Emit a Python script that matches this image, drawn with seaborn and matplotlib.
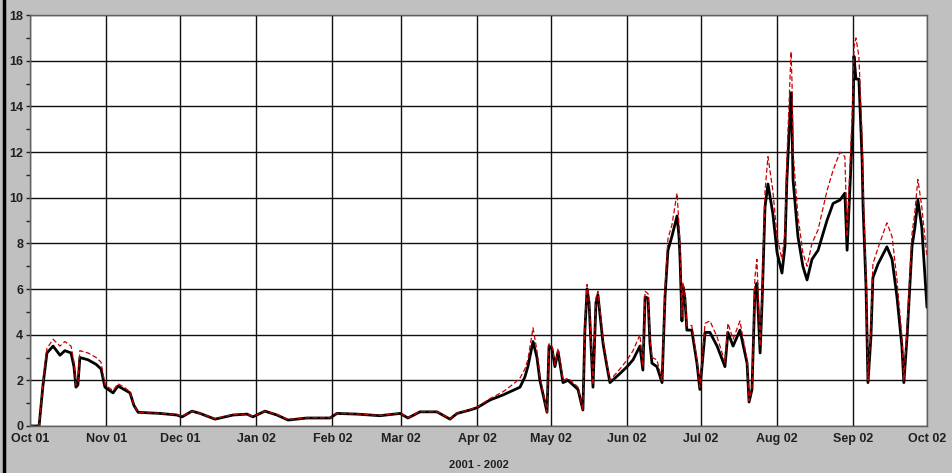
import numpy as np
import pandas as pd
import seaborn as sns
import matplotlib.pyplot as plt
import matplotlib.dates as mdates
from matplotlib.ticker import MultipleLocator
from matplotlib.lines import Line2D

# dias desde 2001-10-01 y valores
days = [0, 3.7, 5.3, 6.9, 9.4, 12.2, 14.2, 16.7, 17.9, 18.7, 19.5, 20.3, 23.6, 26.9, 28.9,
        30.5, 33.8, 35.8, 38.3, 40.7, 42.3, 44.0, 52.9, 59.8, 61.9, 65.9, 69.2, 75.3, 82.6,
        88.3, 90.7, 95.6, 100.5, 105.0, 112.7, 122.1, 124.9, 133.1, 142.4, 150.6, 153.8,
        158.7, 165.6, 170.9, 173.8, 179.0, 181.9, 187.2, 192.5, 197.4, 199.4, 201.4, 202.6,
        204.7, 206.3, 207.5, 210.4, 211.2, 212.4, 213.6, 214.9, 216.9, 218.9, 221.0, 223.0,
        225.0, 225.8, 226.7, 227.5, 229.1, 230.3, 231.1, 233.2, 234.8, 236.0, 240.1, 243.0,
        245.4, 248.2, 249.4, 250.3, 251.5, 252.3, 253.1, 255.1, 257.2, 258.4, 259.6, 261.2,
        263.3, 264.1, 264.5, 265.3, 265.7, 266.5, 267.3, 269.3, 271.4, 272.6, 274.7, 276.7,
        279.6, 282.8, 284.0, 286.1, 288.9, 291.8, 292.6, 293.8, 295.0, 295.8, 297.1, 297.9,
        299.1, 300.3, 302.3, 304.0, 306.0, 307.2, 308.0, 309.7, 310.1, 310.5, 312.5, 314.5,
        316.2, 318.2, 320.7, 324.3, 326.8, 329.6, 331.6, 332.5, 333.3, 334.9, 335.3, 336.1,
        337.3, 338.6, 339.0, 340.2, 341.0, 342.2, 343.0, 345.1, 348.7, 350.8, 352.8, 354.8,
        355.6, 356.9, 358.9, 360.1, 361.3, 362.9, 365.0]

black_vals = [0, 0, 1.8, 3.2, 3.5, 3.1, 3.3, 3.2, 2.6, 1.7, 1.8, 3.0, 2.9, 2.7, 2.5,
              1.7, 1.45, 1.75, 1.6, 1.45, 0.9, 0.6, 0.55, 0.48, 0.4, 0.65, 0.55, 0.3, 0.48,
              0.52, 0.4, 0.65, 0.48, 0.26, 0.35, 0.35, 0.55, 0.52, 0.45, 0.55, 0.35,
              0.62, 0.62, 0.3, 0.55, 0.7, 0.8, 1.14, 1.36, 1.6, 1.7, 2.15, 2.6,
              3.7, 3.0, 2.0, 0.6, 3.5, 3.4, 2.6, 3.25, 1.9, 2.0, 1.8, 1.6,
              0.7, 4.2, 6.0, 5.4, 1.7, 5.4, 5.75, 3.6, 2.6, 1.9, 2.3, 2.6,
              2.9, 3.5, 2.45, 5.65, 5.6, 3.6, 2.75, 2.6, 1.9, 5.65, 7.7, 8.3,
              9.2, 8.3, 7.4, 4.6, 6.1, 5.6, 4.2, 4.2, 2.75, 1.6, 4.1, 4.1,
              3.5, 2.6, 4.1, 3.5, 4.2, 2.75, 1.05, 1.6, 5.95, 6.25, 3.2, 5.4,
              9.6, 10.6, 9.3, 7.6, 6.7, 7.85, 10.8, 14.6, 13.1, 10.8, 8.3, 7.0,
              6.4, 7.3, 7.7, 9.0, 9.75, 9.9, 10.2, 7.7, 9.6, 13.4, 16.2, 15.2,
              15.2, 11.7, 9.6, 6.1, 1.9, 3.9, 6.5, 7.1, 7.85, 7.3, 5.65, 3.5,
              1.9, 3.9, 7.85, 8.7, 9.9, 8.7, 5.2]

red_vals = [0, 0, 1.9, 3.4, 3.8, 3.5, 3.7, 3.5, 2.8, 1.8, 1.9, 3.3, 3.2, 3.0, 2.8,
            1.8, 1.55, 1.85, 1.7, 1.5, 0.9, 0.6, 0.55, 0.5, 0.42, 0.65, 0.55, 0.32, 0.5,
            0.52, 0.42, 0.65, 0.5, 0.28, 0.36, 0.36, 0.55, 0.53, 0.46, 0.56, 0.36,
            0.63, 0.63, 0.32, 0.56, 0.72, 0.82, 1.2, 1.5, 1.9, 2.1, 2.5, 2.9,
            4.3, 3.3, 2.2, 0.6, 3.6, 3.5, 2.7, 3.4, 2.0, 2.1, 1.9, 1.7,
            0.7, 4.4, 6.2, 5.6, 1.8, 5.6, 5.9, 3.8, 2.7, 2.0, 2.5, 2.9,
            3.3, 4.0, 2.6, 5.9, 5.8, 3.8, 3.0, 2.9, 2.0, 6.0, 8.2, 8.8,
            10.2, 8.8, 7.8, 4.8, 6.3, 5.8, 4.4, 4.4, 2.9, 1.7, 4.5, 4.6,
            3.9, 2.8, 4.5, 3.8, 4.6, 2.9, 1.1, 1.7, 6.5, 7.3, 3.5, 5.8,
            10.3, 11.8, 10.3, 8.3, 7.3, 8.5, 11.7, 16.4, 15.0, 12.0, 9.2, 7.6,
            7.0, 8.0, 8.6, 10.3, 11.2, 12.0, 11.8, 8.3, 10.5, 14.5, 16.6, 17.0,
            16.2, 12.7, 10.5, 6.6, 2.0, 4.3, 7.1, 7.8, 8.9, 8.3, 6.4, 3.9,
            2.0, 4.3, 8.4, 9.4, 10.8, 9.6, 7.4]

start = pd.Timestamp('2001-10-01')
df = pd.DataFrame({
    'fecha': start + pd.to_timedelta(days, unit='D'),
    'negro': black_vals,
    'rojo': red_vals,
})

sns.set_style('white')
plt.rcParams['font.family'] = ['Liberation Sans', 'DejaVu Sans']

fig = plt.figure(figsize=(9.52, 4.73), dpi=100, facecolor='#c0c0c0')
ax = fig.add_axes([0.0315, 0.0994, 0.9422, 0.8686])
ax.set_facecolor('white')

sns.lineplot(data=df, x='fecha', y='negro', color='black', linewidth=2.0, ax=ax)
sns.lineplot(data=df, x='fecha', y='rojo', color='#c80000', linewidth=0.9,
             linestyle=(0, (4, 2)), ax=ax)

ax.set_xlim(pd.Timestamp('2001-10-01'), pd.Timestamp('2002-10-01'))
ax.set_ylim(0, 18)

ax.xaxis.set_major_locator(mdates.MonthLocator())
ax.xaxis.set_major_formatter(mdates.DateFormatter('%b %y'))
ax.yaxis.set_major_locator(MultipleLocator(2))
ax.yaxis.set_minor_locator(MultipleLocator(1))

ax.grid(True, which='major', color='#101010', linewidth=1.0)
ax.set_axisbelow(True)

ax.tick_params(axis='x', which='both', length=0, pad=5, labelsize=9, colors='#202020')
ax.tick_params(axis='y', which='major', length=3, width=1, pad=2, labelsize=9,
               colors='#202020', left=True)
ax.tick_params(axis='y', which='minor', length=3, width=1, left=True, color='#202020')
for lab in ax.get_xticklabels() + ax.get_yticklabels():
    lab.set_fontweight('bold')

for sp in ax.spines.values():
    sp.set_color('#606060')
    sp.set_linewidth(1)

ax.set_xlabel('2001 - 2002', fontsize=8, fontweight='bold', color='#202020', labelpad=11)
ax.set_ylabel('')

# barra negra del borde izquierdo
fig.add_artist(Line2D([0.0037, 0.0037], [0, 1], transform=fig.transFigure,
                      color='black', linewidth=2.5))

plt.savefig('out.png', dpi=100, facecolor=fig.get_facecolor())
plt.close()
